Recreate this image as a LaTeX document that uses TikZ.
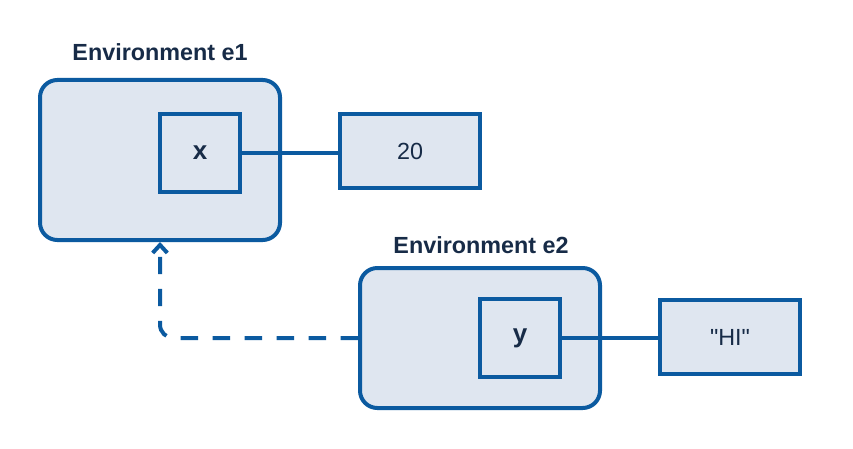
\documentclass[tikz,border=0pt]{standalone}
\usepackage{fontspec}
\setmainfont{Liberation Sans}
\usetikzlibrary{arrows.meta}
\definecolor{envblue}{HTML}{0B5AA0}
\definecolor{envfill}{HTML}{DFE6F0}
\definecolor{envtext}{HTML}{172B47}
\tikzset{
  envbox/.style={draw=envblue,line width=3pt,fill=envfill,rounded corners=13pt,
    minimum width=180pt,inner sep=0pt},
  varbox/.style={draw=envblue,line width=3pt,minimum width=60pt,minimum height=59pt,
    inner sep=0pt,text=envtext,font=\fontsize{19.5}{22}\selectfont\bfseries},
  valbox/.style={draw=envblue,line width=3pt,fill=envfill,minimum width=105pt,
    minimum height=55pt,inner sep=0pt,text=envtext,
    font=\fontsize{17.5}{20}\selectfont\addfontfeatures{Ligatures=TeXOff}},
  envlabel/.style={text=envtext,font=\fontsize{17.5}{20}\selectfont\bfseries},
}
\begin{document}
\begin{tikzpicture}[x=0.75pt,y=-0.75pt]
      \useasboundingbox (0,0) rectangle (853,449);

      % environment e1
      \node[envlabel] (lab1) at (160,52) {Environment e1};
      \node[envbox,minimum height=120pt] (e1) at (160,160) {};
      \node[varbox] (x) at (200,153) {x};
      \node[valbox] (v20) at (410,151) {20};
      \draw[envblue,line width=3pt] (x.east) -- (x.east -| v20.west);

      % environment e2
      \node[envlabel] (lab2) at (481,245) {Environment e2};
      \node[envbox,minimum height=105pt] (e2) at (480,338) {};
      \node[varbox] (y) at (520,338) {y};
      \node[valbox] (vhi) at (730,337) {"HI"};
      \draw[envblue,line width=3pt] (y.east) -- (y.east -| vhi.west);

      % enclosing environment
      \draw[envblue,line width=3pt,dash pattern=on 13pt off 11pt,rounded corners=10pt,
        -{Straight Barb[length=6pt,width=11pt]}] (e2.west) -| (e1.south);
    \end{tikzpicture}
\end{document}
